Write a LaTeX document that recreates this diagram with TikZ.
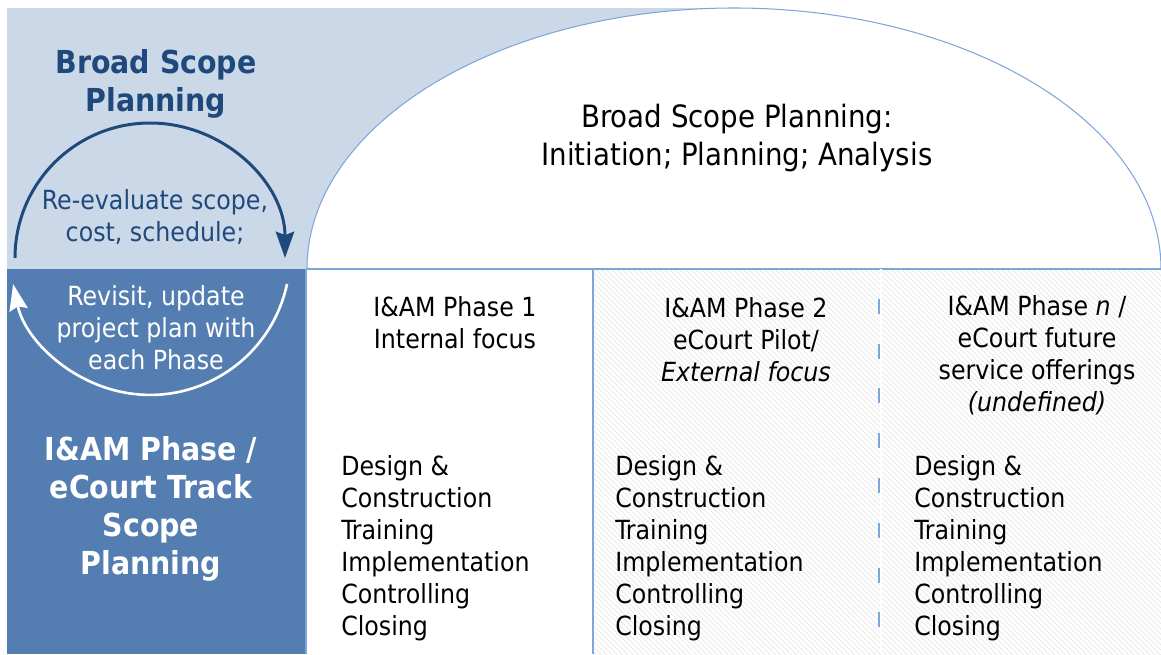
\documentclass[tikz,border=0pt]{standalone}
\usepackage{fontspec}
\setmainfont{DejaVu Sans Condensed}
\usepackage{tikz}
\usetikzlibrary{positioning,arrows,arrows.meta,patterns}
\definecolor{paleblue}{HTML}{CBD8E7}
\definecolor{midblue}{HTML}{547EB1}
\definecolor{navy}{HTML}{1F497D}
\definecolor{rule}{HTML}{7FA6DA}
\definecolor{hatch}{HTML}{E6E6E6}

\begin{document}
\begin{tikzpicture}[x=0.02cm,y=0.02cm,
    every node/.style={align=center,inner sep=0pt},
    title/.style={font=\fontsize{18}{21.6}\selectfont\bfseries},
    body/.style={font=\fontsize{15}{18.2}\selectfont},
    head/.style={font=\fontsize{17.5}{21.3}\selectfont},
    steps/.style={body,align=left,anchor=north west},
    loop/.style={line width=1.7pt,-{Stealth[length=15pt,width=10.5pt,inset=2pt]}}]
    \useasboundingbox (0,0) rectangle (1161,654);
    \fill[paleblue] (7,385) rectangle (734,646);
    \filldraw[fill=white,draw=rule,line width=0.6pt] (307,385) arc[start angle=180,end angle=0,x radius=427,y radius=261];
    \fill[midblue] (7,0) rectangle (306,385);
    \fill[pattern=north west lines,pattern color=hatch] (593,0) rectangle (1161,385);
    \draw[rule,line width=1pt] (307,385) -- (1161,385);
    \draw[rule,line width=0.9pt] (306,0) -- (306,385);
    \draw[rule,line width=0.9pt] (593,0) -- (593,385);
    \draw[white,line width=1.2pt] (881,0) -- (881,385);
    \draw[rule,line width=0.9pt,dash pattern=on 8.5pt off 17pt,dash phase=8.5pt] (879,385) -- (879,0);
    \node[title,text=navy] (BroadTitle) at (156,570) {Broad Scope\\Planning};
    \node[body,text=navy] (Reeval) at (155,437) {Re-evaluate scope,\\cost, schedule;};
    \node[body,text=white] (Revisit) at (156,326) {Revisit, update\\project plan with\\each Phase};
    \node[title,text=white] (TrackTitle) at (151,145) {I\&AM Phase /\\eCourt Track\\Scope\\Planning};
    \node[head] (BroadScope) at (737,516) {Broad Scope Planning:\\Initiation; Planning; Analysis};
    \node[body] (PhaseOne) at (455,331) {I\&AM Phase 1\\Internal focus};
    \node[body] (PhaseTwo) at (746,314) {I\&AM Phase 2\\eCourt Pilot/\\\textit{External focus}};
    \node[body] (PhaseN) at (1037,299) {I\&AM Phase \textit{n} /\\eCourt future\\service offerings\\\textit{(undefined)}};
    \node[steps] (StepsOne) at (341,199) {Design \&\\Construction\\Training\\Implementation\\Controlling\\Closing};
    \node[steps] (StepsTwo) at (615,199) {Design \&\\Construction\\Training\\Implementation\\Controlling\\Closing};
    \node[steps] (StepsN) at (914,199) {Design \&\\Construction\\Training\\Implementation\\Controlling\\Closing};
    \coordinate (ReevalStart) at (15,396);
    \draw[navy,loop] (ReevalStart) arc[start angle=180,end angle=0,radius=135];
    \coordinate (RevisitStart) at (287,370);
    \draw[white,loop,line width=1.5pt] (RevisitStart) arc[start angle=-12,end angle=-168,radius=140];
\end{tikzpicture}
\end{document}
